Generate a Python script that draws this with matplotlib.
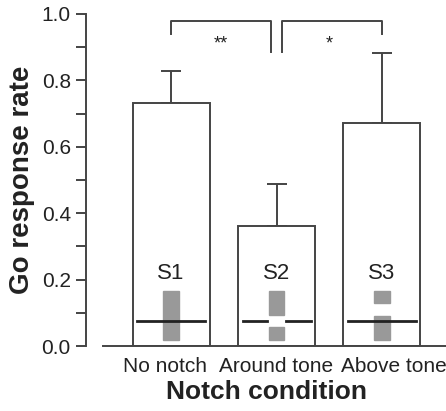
import matplotlib.pyplot as plt
import numpy as np

plt.rcParams['font.family'] = ['Liberation Sans', 'DejaVu Sans']

conditions = ["No notch", "Around tone", "Above tone"]
means = [0.733, 0.361, 0.672]
errors = [0.096, 0.127, 0.210]
stim_labels = ["S1", "S2", "S3"]
# gray notch pieces per stimulus: (bottom, top)
notch_blocks = [
    [(0.018, 0.165)],
    [(0.018, 0.057), (0.095, 0.165)],
    [(0.018, 0.092), (0.130, 0.165)],
]
tone_level = 0.075
label_shift = [-0.06, 0.0, 0.11]

line_col = "#444444"
fig = plt.figure(figsize=(4.46, 4.11), dpi=100)
ax = fig.add_axes([0.193, 0.158, 0.807, 0.808])

x = np.arange(len(conditions))
ax.bar(x, means, width=0.73, color="white", edgecolor=line_col, linewidth=1.4, zorder=2)
ax.errorbar(x, means, yerr=[np.zeros(3), errors], fmt="none", ecolor=line_col,
            elinewidth=1.4, capsize=7, capthick=1.4, zorder=1)

for i, lab in enumerate(stim_labels):
    ax.text(x[i], 0.22, lab, ha="center", va="center", fontsize=16, color="#222222")
    for lo, hi in notch_blocks[i]:
        ax.add_patch(plt.Rectangle((x[i] - 0.075, lo), 0.15, hi - lo,
                                   color="#999999", zorder=3))
    if i == 1:
        ax.plot([x[i] - 0.32, x[i] - 0.09], [tone_level] * 2, color="#222222", lw=2, zorder=4)
        ax.plot([x[i] + 0.09, x[i] + 0.33], [tone_level] * 2, color="#222222", lw=2, zorder=4)
    else:
        ax.plot([x[i] - 0.32, x[i] + 0.32], [tone_level] * 2, color="#222222", lw=2, zorder=4)

# significance brackets
ax.plot([0, 0, 0.95, 0.95], [0.94, 0.979, 0.979, 0.885], color=line_col, lw=1.4, clip_on=False)
ax.text(0.47, 0.91, "**", ha="center", va="center", fontsize=13, color="#222222")
ax.plot([1.05, 1.05, 2, 2], [0.885, 0.979, 0.979, 0.94], color=line_col, lw=1.4, clip_on=False)
ax.text(1.5, 0.91, "*", ha="center", va="center", fontsize=13, color="#222222")

ax.set_xlim(-0.806, 2.607)
ax.set_ylim(0, 1.0)
ax.spines["top"].set_visible(False)
ax.spines["right"].set_visible(False)
ax.spines["left"].set_color(line_col)
ax.spines["bottom"].set_color(line_col)
ax.spines["left"].set_linewidth(1.4)
ax.spines["bottom"].set_linewidth(1.4)
ax.spines["bottom"].set_bounds(-0.65, 2.607)

ax.set_yticks(np.arange(0, 1.01, 0.2))
ax.set_yticks(np.arange(0.1, 1.0, 0.2), minor=True)
ax.set_yticklabels(["0.0", "0.2", "0.4", "0.6", "0.8", "1.0"], fontsize=15, color="#222222")
ax.tick_params(axis="y", which="both", length=7, width=1.4, color=line_col, pad=4)
ax.set_xticks(x + np.array(label_shift))
ax.set_xticklabels(conditions, fontsize=15, color="#222222")
ax.tick_params(axis="x", length=0, pad=8)

ax.set_ylabel("Go response rate", fontsize=20, fontweight="bold", labelpad=5, color="#222222")
ax.set_xlabel("Notch condition", fontsize=19, fontweight="bold", labelpad=3, color="#222222")

fig.savefig("out.png", dpi=100)
